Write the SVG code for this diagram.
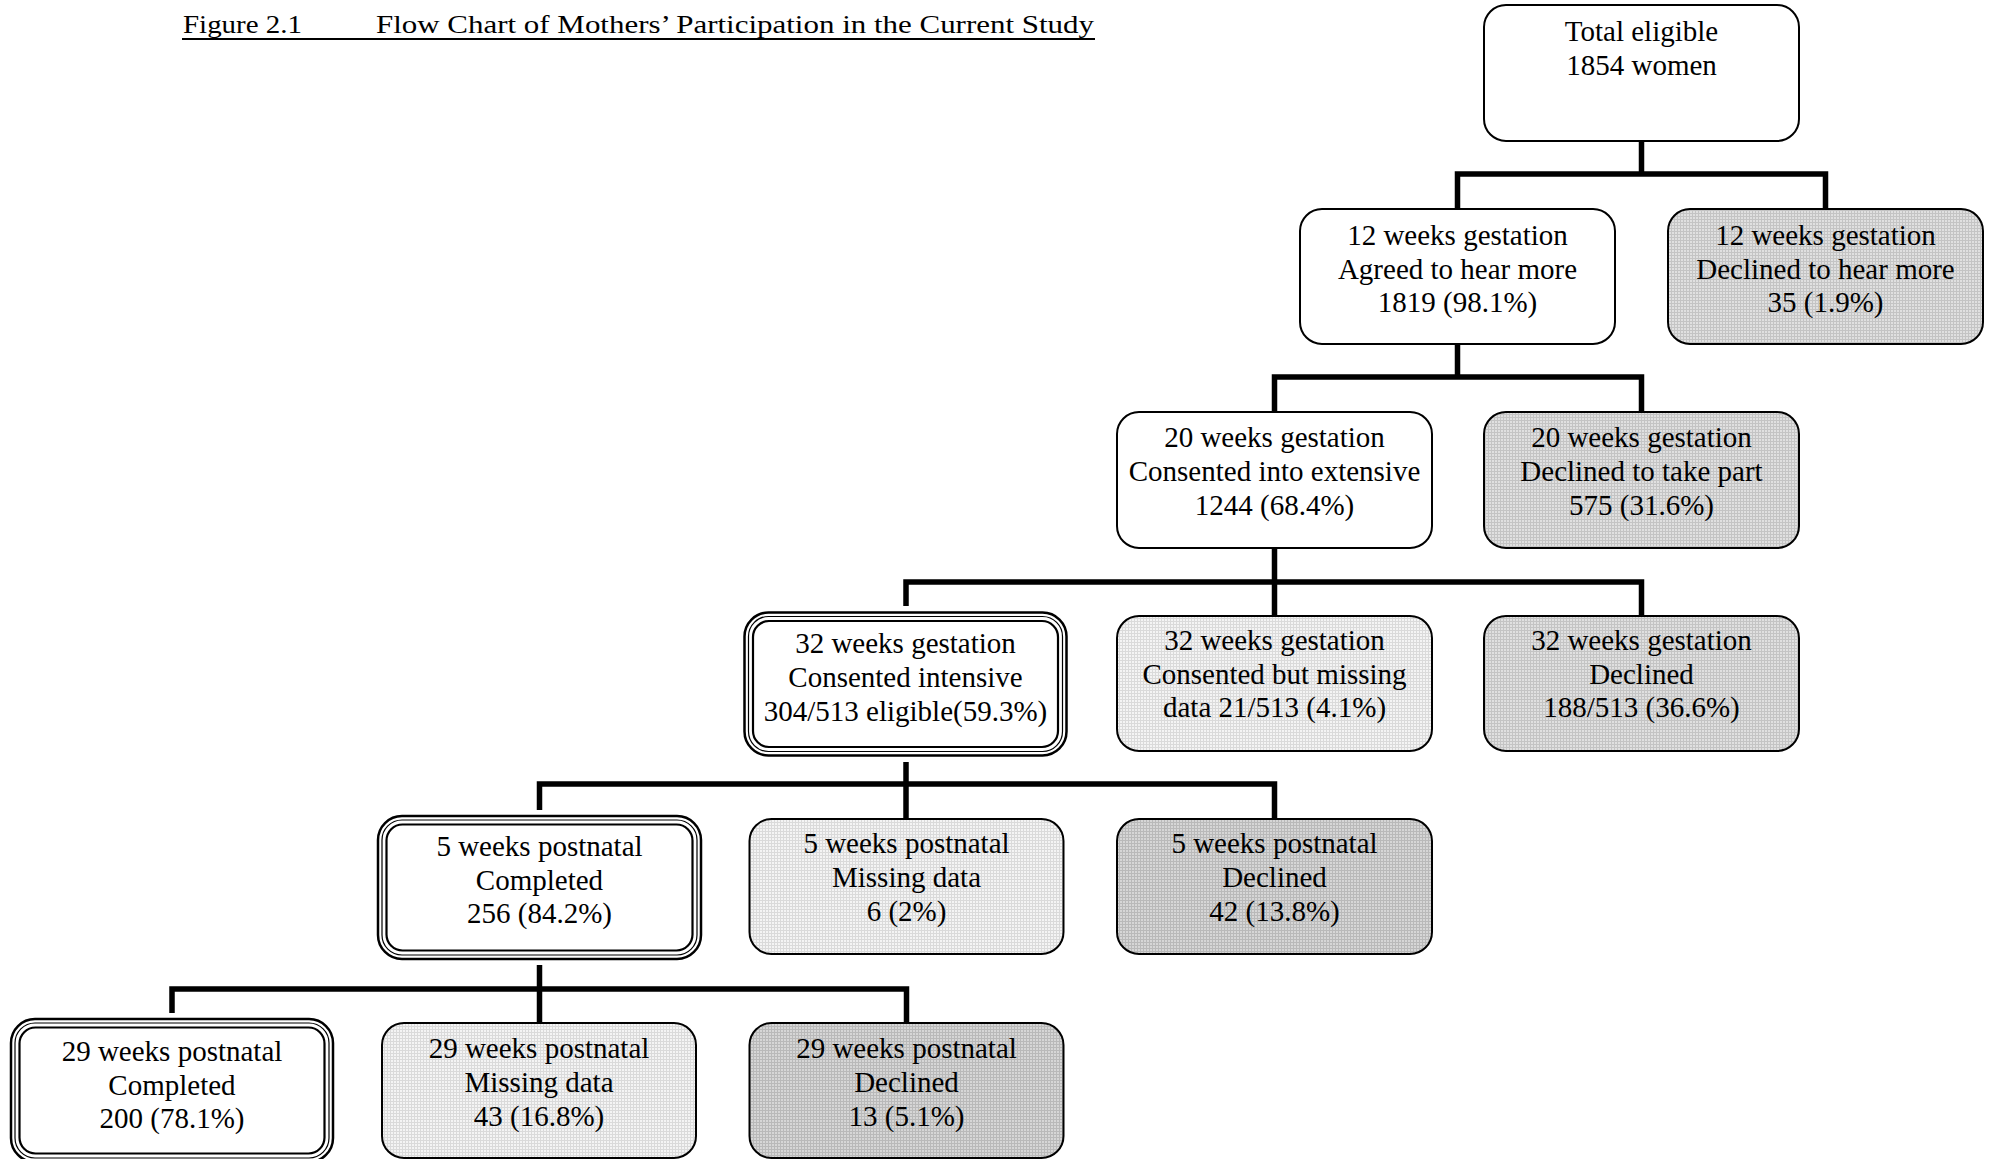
<svg xmlns="http://www.w3.org/2000/svg" width="1989" height="1159" viewBox="0 0 1989 1159">
<defs>
<pattern id="pLight" width="3" height="3" patternUnits="userSpaceOnUse"><rect width="3" height="3" fill="#f4f4f4"/><path d="M0 0.5H3M0.5 0V3" stroke="#dadada" stroke-width="1"/></pattern>
<pattern id="pMid" width="3" height="3" patternUnits="userSpaceOnUse"><rect width="3" height="3" fill="#e0e0e0"/><path d="M0 0.5H3M0.5 0V3" stroke="#c4c4c4" stroke-width="1"/></pattern>
<pattern id="pDark" width="3" height="3" patternUnits="userSpaceOnUse"><rect width="3" height="3" fill="#d6d6d6"/><path d="M0 0.5H3M0.5 0V3" stroke="#b9b9b9" stroke-width="1"/></pattern>
<style>
.box{stroke:#000;stroke-width:2}
.white{fill:#fff}
.light{fill:url(#pLight)}
.mid{fill:url(#pMid)}
.dark{fill:url(#pDark)}
.o{fill:#fff;stroke:#000;stroke-width:2.5}
.m{fill:none;stroke:#000;stroke-width:1.2}
.i{fill:none;stroke:#000;stroke-width:2.2}
text{font-family:"Liberation Serif","Times New Roman",serif;font-size:29px;fill:#000}
.t{text-anchor:middle}
.title{font-size:25px}
.conn{fill:none;stroke:#000;stroke-width:5.5;stroke-linejoin:miter;stroke-linecap:butt}
</style>
</defs>
<rect width="1989" height="1159" fill="#fff"/>

<g id="title">
<text class="title" x="183" y="33" textLength="119" lengthAdjust="spacingAndGlyphs">Figure 2.1</text>
<text class="title" x="376" y="33" textLength="718" lengthAdjust="spacingAndGlyphs">Flow Chart of Mothers’ Participation in the Current Study</text>
<line x1="182" y1="39" x2="1095" y2="39" stroke="#000" stroke-width="2"/>
</g>

<g id="connectors">
<path class="conn" d="M1641.5 141V174"/>
<path class="conn" d="M1457.5 209V174H1825.5V209"/>
<path class="conn" d="M1457.5 344V377"/>
<path class="conn" d="M1274.5 412V377H1641.5V412"/>
<path class="conn" d="M1274.5 548V582"/>
<path class="conn" d="M906 606V582H1641.5V616"/>
<path class="conn" d="M1274.5 582V616"/>
<path class="conn" d="M906 762V784"/>
<path class="conn" d="M539.5 810V784H1274.5V819"/>
<path class="conn" d="M906 784V819"/>
<path class="conn" d="M539.5 965V989"/>
<path class="conn" d="M172 1013V989H906.5V1023"/>
<path class="conn" d="M539.5 989V1023"/>
</g>

<g id="n1">
<rect class="box white" x="1484" y="5" width="315" height="136" rx="22"/>
<text class="t" x="1641.5" y="41">Total eligible</text>
<text class="t" x="1641.5" y="75">1854 women</text>
</g>

<g id="n2">
<rect class="box white" x="1300" y="209" width="315" height="135" rx="22"/>
<text class="t" x="1457.5" y="245">12 weeks gestation</text>
<text class="t" x="1457.5" y="279">Agreed to hear more</text>
<text class="t" x="1457.5" y="312">1819 (98.1%)</text>
</g>

<g id="n3">
<rect class="box mid" x="1668" y="209" width="315" height="135" rx="22"/>
<text class="t" x="1825.5" y="245">12 weeks gestation</text>
<text class="t" x="1825.5" y="279">Declined to hear more</text>
<text class="t" x="1825.5" y="312">35 (1.9%)</text>
</g>

<g id="n4">
<rect class="box white" x="1117" y="412" width="315" height="136" rx="22"/>
<text class="t" x="1274.5" y="447">20 weeks gestation</text>
<text class="t" x="1274.5" y="481">Consented into extensive</text>
<text class="t" x="1274.5" y="515">1244 (68.4%)</text>
</g>

<g id="n5">
<rect class="box mid" x="1484" y="412" width="315" height="136" rx="22"/>
<text class="t" x="1641.5" y="447">20 weeks gestation</text>
<text class="t" x="1641.5" y="481">Declined to take part</text>
<text class="t" x="1641.5" y="515">575 (31.6%)</text>
</g>

<g id="n6">
<rect class="o" x="744.5" y="612.5" width="322" height="143" rx="24"/>
<rect class="m" x="748.5" y="616.5" width="314" height="135" rx="20"/>
<rect class="i" x="753" y="621" width="305" height="126" rx="16"/>
<text class="t" x="905.5" y="653">32 weeks gestation</text>
<text class="t" x="905.5" y="687">Consented intensive</text>
<text class="t" x="905.5" y="721">304/513 eligible(59.3%)</text>
</g>

<g id="n7">
<rect class="box light" x="1117" y="616" width="315" height="135" rx="22"/>
<text class="t" x="1274.5" y="650">32 weeks gestation</text>
<text class="t" x="1274.5" y="684">Consented but missing</text>
<text class="t" x="1274.5" y="717">data 21/513 (4.1%)</text>
</g>

<g id="n8">
<rect class="box mid" x="1484" y="616" width="315" height="135" rx="22"/>
<text class="t" x="1641.5" y="650">32 weeks gestation</text>
<text class="t" x="1641.5" y="684">Declined</text>
<text class="t" x="1641.5" y="717">188/513 (36.6%)</text>
</g>

<g id="n9">
<rect class="o" x="378" y="816" width="323" height="143" rx="24"/>
<rect class="m" x="382" y="820" width="315" height="135" rx="20"/>
<rect class="i" x="386.5" y="824.5" width="306" height="126" rx="16"/>
<text class="t" x="539.5" y="856">5 weeks postnatal</text>
<text class="t" x="539.5" y="890">Completed</text>
<text class="t" x="539.5" y="923">256 (84.2%)</text>
</g>

<g id="n10">
<rect class="box light" x="749.5" y="819" width="314" height="135" rx="22"/>
<text class="t" x="906.5" y="853">5 weeks postnatal</text>
<text class="t" x="906.5" y="887">Missing data</text>
<text class="t" x="906.5" y="921">6 (2%)</text>
</g>

<g id="n11">
<rect class="box dark" x="1117" y="819" width="315" height="135" rx="22"/>
<text class="t" x="1274.5" y="853">5 weeks postnatal</text>
<text class="t" x="1274.5" y="887">Declined</text>
<text class="t" x="1274.5" y="921">42 (13.8%)</text>
</g>

<g id="n12">
<rect class="o" x="11" y="1019" width="322" height="143" rx="24"/>
<rect class="m" x="15" y="1023" width="314" height="135" rx="20"/>
<rect class="i" x="19.5" y="1027.5" width="305" height="126" rx="16"/>
<text class="t" x="172" y="1061">29 weeks postnatal</text>
<text class="t" x="172" y="1095">Completed</text>
<text class="t" x="172" y="1128">200 (78.1%)</text>
</g>

<g id="n13">
<rect class="box light" x="382" y="1023" width="314" height="135" rx="22"/>
<text class="t" x="539" y="1058">29 weeks postnatal</text>
<text class="t" x="539" y="1092">Missing data</text>
<text class="t" x="539" y="1126">43 (16.8%)</text>
</g>

<g id="n14">
<rect class="box dark" x="749.5" y="1023" width="314" height="135" rx="22"/>
<text class="t" x="906.5" y="1058">29 weeks postnatal</text>
<text class="t" x="906.5" y="1092">Declined</text>
<text class="t" x="906.5" y="1126">13 (5.1%)</text>
</g>
</svg>
